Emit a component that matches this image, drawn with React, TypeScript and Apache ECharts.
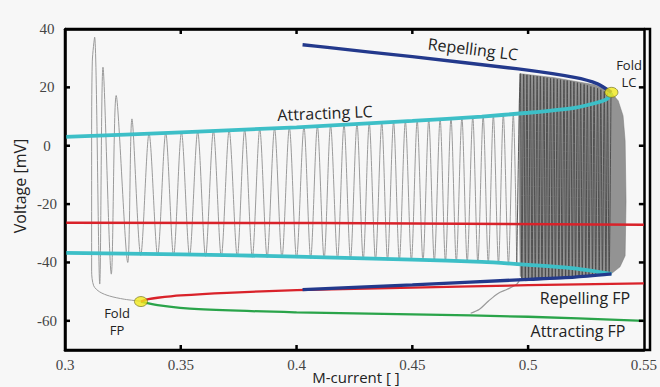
import React, { useEffect, useRef } from 'react';
import * as echarts from 'echarts';

// ---------- data (M-current, Voltage mV) ----------
const xMin = 0.3;
const xMax = 0.55;
const yMin = -70;
const yMax = 40;
const xTickValues = [0.35, 0.4, 0.45, 0.5];
const yTickValues = [-60, -40, -20, 0, 20];

const repLCUpperM = [0.4026, 0.4133, 0.45, 0.4957, 0.52, 0.53, 0.536];
const repLCUpperV = [34.6, 33.7, 30.5, 26.3, 23.4, 21.2, 18.3];
const repLCLowerM = [0.4026, 0.45, 0.5, 0.52, 0.536];
const repLCLowerV = [-49.3, -47.7, -45.8, -45.0, -43.9];

const attLCUpperM = [0.3, 0.35, 0.4, 0.45, 0.48, 0.5, 0.52, 0.53, 0.5342, 0.536];
const attLCUpperV = [3.0, 4.6, 6.3, 8.5, 10.0, 11.3, 13.0, 14.8, 16.1, 18.3];
const attLCLowerM = [0.3, 0.35, 0.4, 0.45, 0.48, 0.5, 0.52, 0.536];
const attLCLowerV = [-36.7, -37.2, -38.0, -39.0, -39.8, -40.8, -42.0, -43.9];

const midFPM = [0.3, 0.41, 0.55];
const midFPV = [-26.4, -26.5, -27.1];

const repFPM = [0.3328, 0.336, 0.34, 0.35, 0.37, 0.4, 0.45, 0.5, 0.55];
const repFPV = [-53.4, -52.6, -52.1, -51.3, -50.4, -49.5, -48.6, -47.8, -47.2];

const attFPM = [0.3328, 0.34, 0.3577, 0.4, 0.45, 0.5, 0.55];
const attFPV = [-53.4, -54.6, -56.0, -57.1, -57.8, -58.6, -60.0];

const foldM = [0.536, 0.3328];
const foldV = [18.3, -53.4];

// trajectory: from fold FP leftwards, then spikes (peak / trough alternating)
const oscM = [
  0.3328, 0.3256, 0.3192, 0.315, 0.3124, 0.3115, 0.3115, 0.3118,
  0.3128, 0.315, 0.3164, 0.32, 0.3221, 0.3271, 0.3289, 0.3327,
  0.3363, 0.34, 0.3435, 0.3469, 0.3503, 0.3538, 0.3573, 0.3607,
  0.3641, 0.3675, 0.3709, 0.3744, 0.3776, 0.3809, 0.3841, 0.3873,
  0.3905, 0.3937, 0.3969, 0.4, 0.4032, 0.4061, 0.409, 0.4119,
  0.4147, 0.4177, 0.4205, 0.4233, 0.4261, 0.4288, 0.4314, 0.4341,
  0.4368, 0.4393, 0.4419, 0.4444, 0.447, 0.4496, 0.4521, 0.4546,
  0.4571, 0.4595, 0.462, 0.4643, 0.4667, 0.469, 0.4714, 0.4737,
  0.4761, 0.4783, 0.4806, 0.4828, 0.485, 0.4872, 0.4893, 0.4915,
  0.4936, 0.4951,
];
const oscV = [
  -53.3, -52.6, -51.5, -50.1, -48.0, -43.0, -2.0, 29.0,
  37.2, -47.4, 26.9, -44.0, 17.2, -40.0, 9.2, -37.6,
  4.16, -37.6, 4.39, -37.7, 4.61, -37.8, 4.85, -37.9,
  5.08, -38.0, 5.31, -38.1, 5.54, -38.2, 5.76, -38.3,
  5.98, -38.4, 6.19, -38.5, 6.44, -38.6, 6.7, -38.7,
  6.95, -38.8, 7.2, -38.9, 7.45, -39.0, 7.68, -39.1,
  7.92, -39.2, 8.14, -39.3, 8.37, -39.4, 8.6, -39.5,
  8.86, -39.6, 9.1, -39.7, 9.34, -39.8, 9.57, -39.9,
  9.8, -40.0, 10.04, -40.2, 10.33, -40.4, 10.6, -40.6,
  10.9, -41.0,
];

// dense oscillations near the fold of limit cycles
const denseM = [
  0.4951, 0.4966, 0.4973, 0.4981, 0.4988, 0.4995, 0.5002, 0.501, 0.5017, 0.5024, 0.5031,
  0.5039, 0.5046, 0.5053, 0.506, 0.5068, 0.5075, 0.5082, 0.5089, 0.5097, 0.5104,
  0.5111, 0.5118, 0.5126, 0.5133, 0.514, 0.5147, 0.5155, 0.5162, 0.5169, 0.5176,
  0.5184, 0.5191, 0.5198, 0.5205, 0.5213, 0.522, 0.5227, 0.5234, 0.5242, 0.5249,
  0.5256, 0.5263, 0.5271, 0.5278, 0.5285, 0.5292, 0.53, 0.5307, 0.5314, 0.5321,
  0.5329, 0.5336, 0.5343, 0.535, 0.5358,
];
const denseV = [
  -41.0, 24.7, -45.6, 24.5, -45.6, 24.3, -45.5, 24.2, -45.5, 24.0, -45.4,
  23.8, -45.4, 23.7, -45.3, 23.5, -45.3, 23.3, -45.2, 23.1, -45.2,
  23.0, -45.1, 22.8, -45.1, 22.6, -45.0, 22.4, -45.0, 22.3, -44.9,
  22.1, -44.9, 21.9, -44.8, 21.6, -44.7, 21.3, -44.6, 21.0, -44.5,
  20.7, -44.4, 20.3, -44.3, 20.0, -44.2, 19.7, -44.1, 19.2, -44.0,
  18.6, -44.0, 18.0, -43.9, 17.5,
];

// envelope of the densely filled region
const envM = [0.4966, 0.5115, 0.5286, 0.5359, 0.5389, 0.541, 0.5419, 0.5423, 0.5419, 0.5397, 0.5359, 0.5201, 0.5051, 0.4987, 0.4966, 0.4962, 0.4962];
const envV = [24.7, 23.3, 20.9, 18.2, 15.4, 10.3, 1.7, -18.9, -37.7, -41.5, -43.9, -45.3, -46.0, -46.3, -44.6, -18.9, 15.4];

// trajectory leaving the attracting fixed point
const exitM = [0.4752, 0.479, 0.4829, 0.487, 0.491, 0.4953, 0.4966];
const exitV = [-57.4, -56.0, -53.2, -50.6, -49.2, -47.3, -45.5];

const pairs = (xs: number[], ys: number[]) => xs.map((x, i) => [x, ys[i]]);

const SANS = '"Open Sans", "Noto Sans", sans-serif';
const SERIF = '"Liberation Serif", "DejaVu Serif", serif';
const FRAME = '#000000';

export default function App() {
  const ref = useRef<HTMLDivElement>(null);
  useEffect(() => {
    if (!ref.current) return;
    const chart = echarts.init(ref.current, null, { renderer: 'svg' });

    const axisLineStyle = { color: FRAME, width: 2.5 };
    const xBase = {
      type: 'value' as const,
      min: xMin,
      max: xMax,
      interval: 0.05,
      splitLine: { show: false },
      axisLine: { show: true, onZero: false, lineStyle: axisLineStyle },
      axisTick: { show: false },
    };
    const yBase = {
      type: 'value' as const,
      min: yMin,
      max: yMax,
      splitNumber: 5,
      minInterval: 20,
      maxInterval: 20,
      splitLine: { show: false },
      axisLine: { show: true, onZero: false, lineStyle: axisLineStyle },
      axisTick: { show: false },
    };

    const line = (name: string, data: number[][], color: string, width: number, z: number, smooth: number | boolean = 0.3) => ({
      name,
      type: 'line',
      data,
      symbol: 'none',
      smooth,
      z,
      lineStyle: { color, width },
      silent: true,
    });

    const text = (t: string, x: number, y: number, size: number, rotation = 0) => ({
      type: 'text',
      x,
      y,
      rotation,
      z: 100,
      style: {
        text: t,
        fill: '#222',
        font: `${size}px ${SANS}`,
        align: 'center',
        verticalAlign: 'middle',
      },
    });

    const tickSeg = (x1: number, y1: number, x2: number, y2: number) => ({
      type: 'line',
      shape: { x1, y1, x2, y2 },
      style: { stroke: FRAME, lineWidth: 2.5 },
    });

    chart.setOption({
      animation: false,
      backgroundColor: '#f7f7f7',
      grid: { left: 65, top: 29, right: 10, bottom: 37, containLabel: false },
      xAxis: [
        {
          ...xBase,
          position: 'bottom',
          axisLabel: { fontFamily: SERIF, fontSize: 15, color: '#444', margin: 7 },
        },
        { ...xBase, position: 'top', axisLabel: { show: false } },
      ],
      yAxis: [
        {
          ...yBase,
          position: 'left',
          axisLabel: { fontFamily: SERIF, fontSize: 15, color: '#444', margin: 18, align: 'center', showMinLabel: false },
        },
        { ...yBase, position: 'right', axisLabel: { show: false } },
      ],
      series: [
        {
          type: 'custom',
          name: 'dense',
          data: [[0.52, 0]],
          z: 1,
          silent: true,
          renderItem: (_p: any, api: any) => ({
            type: 'polygon',
            shape: { points: envM.map((m, i) => api.coord([m, envV[i]])) },
            style: { fill: '#939393', stroke: '#777', lineWidth: 0.5 },
          }),
        },
        line('trajectory', pairs(oscM, oscV), '#9a9a9a', 1, 2),
        line('dense oscillation', pairs(denseM, denseV), '#484848', 0.9, 3),
        line('exit', pairs(exitM, exitV), '#9a9a9a', 1.2, 2),
        line('Unstable FP', pairs(midFPM, midFPV), '#d9222a', 2.5, 5, false),
        line('Attracting FP', pairs(attFPM, attFPV), '#2aa44a', 2.3, 5),
        line('Repelling FP', pairs(repFPM, repFPV), '#d9222a', 2.3, 5),
        line('Attracting LC max', pairs(attLCUpperM, attLCUpperV), '#3dbfc7', 3.8, 6, 0.2),
        line('Attracting LC min', pairs(attLCLowerM, attLCLowerV), '#3dbfc7', 3.8, 6, 0.2),
        line('Repelling LC max', pairs(repLCUpperM, repLCUpperV), '#23398c', 3.3, 7, 0.2),
        line('Repelling LC min', pairs(repLCLowerM, repLCLowerV), '#23398c', 3.3, 7, 0.2),
        {
          type: 'scatter',
          name: 'Folds',
          data: pairs(foldM, foldV),
          symbol: 'circle',
          symbolSize: [13, 10],
          z: 10,
          silent: true,
          itemStyle: { color: '#f1e81c', borderColor: '#6a6a20', borderWidth: 0.8 },
        },
        {
          type: 'custom',
          name: 'x ticks',
          data: xTickValues.map((v) => [v, 0]),
          z: 20,
          silent: true,
          renderItem: (_p: any, api: any) => {
            const b = api.coord([api.value(0), yMin]);
            const t = api.coord([api.value(0), yMax]);
            return {
              type: 'group',
              children: [tickSeg(b[0], b[1], b[0], b[1] - 5), tickSeg(t[0], t[1], t[0], t[1] + 5)],
            };
          },
        },
        {
          type: 'custom',
          name: 'y ticks',
          data: yTickValues.map((v) => [xMin, v]),
          z: 20,
          silent: true,
          renderItem: (_p: any, api: any) => {
            const l = api.coord([xMin, api.value(1)]);
            const r = api.coord([xMax, api.value(1)]);
            return {
              type: 'group',
              children: [tickSeg(l[0], l[1], l[0] + 5, l[1]), tickSeg(r[0], r[1], r[0] - 5, r[1])],
            };
          },
        },
      ],
      graphic: [
        {
          type: 'polyline',
          z: 50,
          silent: true,
          shape: { points: [[65, 29], [650, 29], [650, 350], [65, 350], [65, 29]] },
          style: { stroke: FRAME, lineWidth: 2.5, fill: null },
        },
        text('Repelling LC', 473, 49, 16, -0.12),
        text('Attracting LC', 325, 113, 16, 0.04),
        text('Fold', 629, 65, 13),
        text('LC', 629, 82, 13),
        text('Fold', 117, 313, 13),
        text('FP', 117, 330, 13),
        text('Repelling FP', 585, 298, 16),
        text('Attracting FP', 578, 331, 16),
        text('Voltage [mV]', 20, 186, 16, Math.PI / 2),
        text('M-current [ ]', 356, 377, 15),
      ],
    });
    return () => chart.dispose();
  }, []);
  return (
    <div
      ref={ref}
      style={{ position: 'absolute', left: 0, top: 0, width: 660, height: 387 }}
    />
  );
}
